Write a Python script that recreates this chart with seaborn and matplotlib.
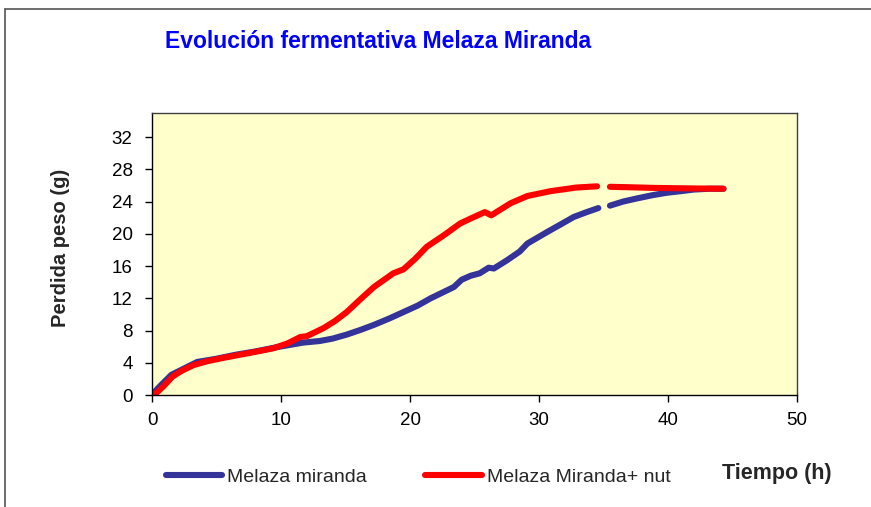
import numpy as np
import pandas as pd
import matplotlib
matplotlib.use("Agg")
import matplotlib.pyplot as plt
import seaborn as sns
from matplotlib.lines import Line2D

# --- data (NaN marks the gap in the record) ---
t_miranda = [0.0, 0.5, 1.0, 1.5, 2.5, 3.5, 5.0, 6.5, 8.0, 9.9, 11.7, 13.0, 14.0,
             15.1, 16.2, 17.2, 18.4, 19.5, 20.6, 21.6, 22.5, 23.4, 24.0, 24.7,
             25.4, 26.1, 26.5, 27.5, 28.5, 29.1, 30.6, 31.6, 32.7, 33.7, 34.6,
             np.nan,
             35.5, 36.5, 37.6, 38.8, 39.9, 41.0, 42.0, 43.2, 44.3]
y_miranda = [0.0, 0.9, 1.7, 2.5, 3.3, 4.1, 4.5, 5.0, 5.4, 6.0, 6.5, 6.7, 7.0,
             7.5, 8.1, 8.7, 9.5, 10.3, 11.1, 12.0, 12.7, 13.4, 14.3, 14.8,
             15.1, 15.8, 15.7, 16.7, 17.8, 18.8, 20.2, 21.1, 22.1, 22.7, 23.2,
             np.nan,
             23.5, 24.0, 24.4, 24.8, 25.1, 25.3, 25.5, 25.6, 25.6]

t_nut = [0.0, 0.3, 0.9, 1.6, 2.3, 3.2, 4.3, 5.5, 7.5, 9.4, 10.5, 11.5, 12.0,
         13.3, 14.2, 15.1, 16.1, 17.2, 18.7, 19.5, 20.4, 21.3, 22.6, 23.9,
         24.7, 25.8, 26.3, 27.0, 27.8, 29.1, 30.9, 32.9, 34.5,
         np.nan,
         35.5, 36.6, 37.8, 39.0, 40.4, 42.3, 44.3]
y_nut = [0.0, 0.2, 1.1, 2.3, 3.0, 3.7, 4.2, 4.6, 5.2, 5.8, 6.4, 7.2, 7.3,
         8.3, 9.2, 10.3, 11.8, 13.4, 15.1, 15.6, 16.9, 18.4, 19.8, 21.3,
         21.9, 22.7, 22.3, 23.0, 23.8, 24.7, 25.3, 25.75, 25.9,
         np.nan,
         25.84, 25.8, 25.75, 25.7, 25.67, 25.63, 25.6]

series_names = ["Melaza miranda", "Melaza Miranda+ nut"]
series_colors = ["#333399", "#FF0000"]


def to_frame(t, y, name):
    df = pd.DataFrame({"t": t, "y": y})
    # each stretch between gaps becomes its own unit so the gap stays open
    df["tramo"] = df["t"].isna().cumsum()
    df = df.dropna()
    df["serie"] = name
    return df


df = pd.concat([to_frame(t_miranda, y_miranda, series_names[0]),
                to_frame(t_nut, y_nut, series_names[1])], ignore_index=True)
df["unidad"] = df["serie"] + "_" + df["tramo"].astype(str)

sns.set_style("white")
plt.rcParams["font.family"] = ["Liberation Sans", "DejaVu Sans"]

fig = plt.figure(figsize=(8.71, 5.07), dpi=100)
ax = fig.add_axes([152 / 871, 1 - 395 / 507, (797 - 152) / 871, (395 - 113) / 507])
ax.set_facecolor("#FFFFCC")

sns.lineplot(data=df, x="t", y="y", hue="serie", units="unidad", estimator=None,
             palette=dict(zip(series_names, series_colors)), hue_order=series_names,
             linewidth=4.4, sort=False, legend=False, ax=ax,
             solid_capstyle="round", solid_joinstyle="round")

ax.set_xlim(0, 50)
ax.set_ylim(0, 35)
ax.set_xticks(range(0, 51, 10))
ax.set_yticks(range(0, 33, 4))
ax.tick_params(axis="both", direction="out", length=5, width=1, color="black",
               labelsize=13.5, left=True, bottom=True, labelcolor="black")
ax.tick_params(axis="y", pad=9)
ax.tick_params(axis="x", pad=7)
for s in ax.spines.values():
    s.set_color("#404040")
    s.set_linewidth(1.0)
ax.spines["bottom"].set_color("black")
ax.spines["left"].set_color("black")

ax.set_xlabel("")
ax.set_ylabel("")
fig.text(60 / 871, 1 - 248 / 507, "Perdida peso (g)", rotation=90,
         fontsize=14.5, fontweight="bold", ha="center", va="center")

fig.text(378 / 871, 1 - 42 / 507, "Evolución fermentativa Melaza Miranda",
         color="#0000FF", fontsize=16.5, fontweight="bold", ha="center", va="center")
fig.text(777 / 871, 1 - 473 / 507, "Tiempo (h)", fontsize=15.5, fontweight="bold",
         ha="center", va="center")

handles = [Line2D([], [], color=c, linewidth=4.4, solid_capstyle="round")
           for c in series_colors]
fig.legend(handles, series_names, loc="center left", ncol=2, frameon=False,
           bbox_to_anchor=(166 / 871, 1 - 477 / 507), fontsize=14,
           handlelength=2.9, handletextpad=0.25, columnspacing=3.0,
           borderaxespad=0, borderpad=0)

# outer chart-area border (top and left edges visible in the reference)
fig.add_artist(Line2D([5 / 871, 1.0], [1 - 9 / 507, 1 - 9 / 507],
                      color="#555555", linewidth=1.2, transform=fig.transFigure))
fig.add_artist(Line2D([5 / 871, 5 / 871], [1 - 9 / 507, 0.0],
                      color="#555555", linewidth=1.2, transform=fig.transFigure))

fig.savefig("out.png", dpi=100)
